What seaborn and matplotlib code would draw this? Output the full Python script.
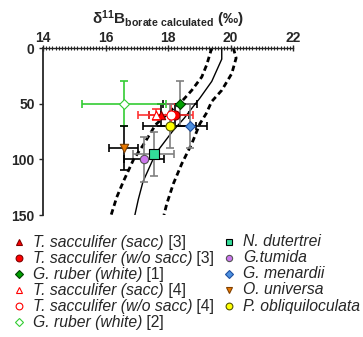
import numpy as np
import pandas as pd
import matplotlib
matplotlib.use("Agg")
import matplotlib.pyplot as plt
from matplotlib.ticker import MultipleLocator
from matplotlib.lines import Line2D
import seaborn as sns

# ---- data ----
species = [
    "T. sacculifer (sacc)",
    "T. sacculifer (w/o sacc)",
    "G. ruber (white)",
    "T. sacculifer (sacc)",
    "T. sacculifer (w/o sacc)",
    "G. ruber (white)",
    "N. dutertrei",
    "G.tumida",
    "G. menardii",
    "O. universa",
    "P. obliquiloculata",
]
refs = ["[3]", "[3]", "[1]", "[4]", "[4]", "[2]", "", "", "", "", ""]
d11B = [17.78, 18.21, 18.38, 17.60, 18.10, 16.60, 17.54, 17.23, 18.70, 16.58, 18.05]
depth = [60, 60, 50, 60, 60, 50, 95, 100, 70, 90, 70]
x_err = [0.40, 0.45, 0.55, 0.55, 0.70, 1.35, 0.65, 0.65, 0.54, 0.47, 0.86]
y_err = [10, 10, 20, 5, 10, 20, 20, 20, 20, 20, 20]

mean_depth = [0, 10, 30, 45, 55, 63, 75, 95, 110, 120, 136, 150]
mean_d11B = [19.72, 19.72, 19.40, 19.02, 18.74, 18.52, 18.14, 17.60, 17.36, 17.20, 17.05, 16.94]
low_depth = [0, 15, 26, 38, 48, 57, 69, 87, 100, 120, 134, 150]
low_d11B = [19.40, 19.24, 19.08, 18.76, 18.44, 18.06, 17.60, 17.21, 16.90, 16.57, 16.36, 16.18]
high_depth = [0, 9, 23, 38, 48, 59, 68, 86, 104, 122, 140, 150]
high_d11B = [20.09, 20.18, 20.04, 19.72, 19.40, 19.22, 19.02, 18.76, 18.44, 18.17, 17.96, 17.87]

# ---- styles ----
markers = ['^', 'o', 'D', '^', 'o', 'D', 's', 'o', 'D', 'v', 'o']
faces = ['#ff0000', '#ff0000', '#00a000', 'white', 'white', 'white',
         '#33dd99', '#cc77ee', '#4d90e0', '#e87800', '#ffff00']
edges = ['#800000', '#800000', '#004000', '#ff0000', '#ff0000', '#33cc33',
         '#000000', '#555555', '#2050a0', '#804000', '#555500']
msizes = [6.0, 6.5, 5.0, 6.0, 6.5, 5.0, 6.5, 6.0, 5.0, 6.0, 6.5]
xecol = ['#000000', '#000000', '#000000', '#ff3333', '#ff3333', '#33cc33',
         '#808080', '#000000', '#000000', '#000000', '#000000']
yecol = ['#000000', '#000000', '#808080', '#ff3333', '#ff3333', '#33cc33',
         '#808080', '#808080', '#808080', '#000000', '#808080']

sns.set_style("ticks")
plt.rcParams['font.family'] = ['Liberation Sans', 'DejaVu Sans']
plt.rcParams['mathtext.fontset'] = 'custom'
plt.rcParams['mathtext.rm'] = 'Liberation Sans'
plt.rcParams['mathtext.it'] = 'Liberation Sans:italic'
plt.rcParams['mathtext.bf'] = 'Liberation Sans:bold'

W, H = 363, 337
fig = plt.figure(figsize=(W/100, H/100), dpi=100)
ax = fig.add_axes([43/W, 1-215/H, 250/W, 167/H])

curves = pd.DataFrame({
    'x': mean_d11B + low_d11B + high_d11B,
    'y': mean_depth + low_depth + high_depth,
    'c': ['mean']*len(mean_d11B) + ['low']*len(low_d11B) + ['high']*len(high_d11B),
})
sns.lineplot(data=curves[curves.c == 'mean'], x='x', y='y', sort=False, estimator=None,
             color='black', linewidth=1.0, ax=ax)
for c in ['low', 'high']:
    sns.lineplot(data=curves[curves.c == c], x='x', y='y', sort=False, estimator=None,
                 color='black', linewidth=2.0, dashes=(2.0, 1.3), ax=ax)

for i in range(len(species)):
    ax.errorbar(d11B[i], depth[i], yerr=y_err[i], fmt='none', ecolor=yecol[i],
                elinewidth=1.2, capsize=3, capthick=1.2, zorder=3)
    ax.errorbar(d11B[i], depth[i], xerr=x_err[i], fmt='none', ecolor=xecol[i],
                elinewidth=1.2, capsize=3, capthick=1.2, zorder=3)

for i in range(len(species)):
    sns.scatterplot(x=[d11B[i]], y=[depth[i]], marker=markers[i], s=msizes[i]**2,
                    color=faces[i], edgecolor=edges[i], linewidth=0.8, zorder=5, ax=ax)

ax.set_xlim(14, 22)
ax.set_ylim(150, 0)
ax.xaxis.tick_top()
ax.set_xticks([14, 16, 18, 20, 22])
ax.xaxis.set_minor_locator(MultipleLocator(0.1))
ax.set_yticks([0, 50, 100, 150])
ax.tick_params(axis='x', which='major', direction='inout', length=4, width=1,
               labelsize=10, pad=0)
ax.tick_params(axis='x', which='minor', direction='inout', length=2.5, width=0.8)
ax.tick_params(axis='y', which='major', direction='out', length=3, width=1,
               labelsize=10, pad=3)
for lab in ax.get_xticklabels() + ax.get_yticklabels():
    lab.set_fontweight('bold')
ax.set_xlabel('')
ax.set_ylabel('')
for s in ['right', 'bottom']:
    ax.spines[s].set_visible(False)
ax.spines['left'].set_linewidth(1.3)
ax.spines['top'].set_linewidth(1.0)

fig.text(168/W, 1-19/H,
         r"$\mathbf{\delta^{11}B_{borate\ calculated}}$ (‰)",
         ha='center', va='center', fontsize=11, fontweight='bold')

# ---- legend (manual, two columns) ----
renderer = fig.canvas.get_renderer()
for i in range(len(species)):
    col = 0 if i < 6 else 1
    row = i if i < 6 else i - 6
    mx = [19, 229][col]
    tx = [33, 243][col]
    yy = 242 + 16 * row
    fig.add_artist(Line2D([mx/W], [1-yy/H], transform=fig.transFigure, linestyle='none',
                          marker=markers[i], markersize=msizes[i]*0.75,
                          markerfacecolor=faces[i], markeredgecolor=edges[i],
                          markeredgewidth=0.8))
    t = fig.text(tx/W, 1-yy/H, species[i], style='italic', ha='left', va='center',
                 fontsize=11.3)
    if refs[i]:
        bb = t.get_window_extent(renderer)
        fig.text(bb.x1/W, 1-yy/H, " " + refs[i], ha='left', va='center', fontsize=11.3)

fig.savefig('out.png', dpi=100)
